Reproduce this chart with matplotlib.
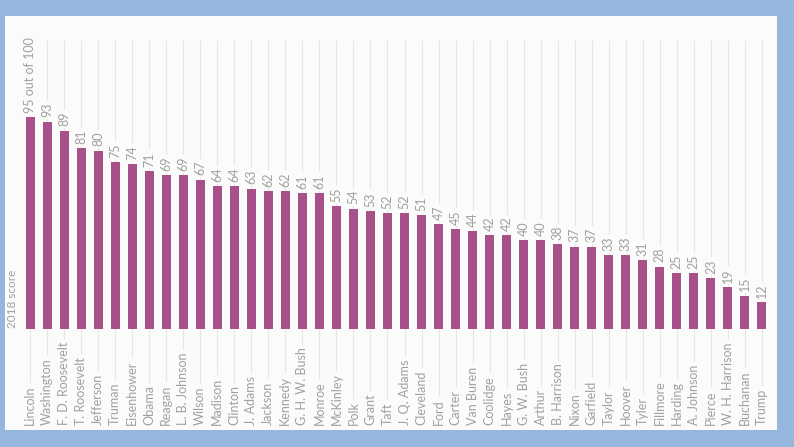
import matplotlib
matplotlib.use("Agg")
import matplotlib.pyplot as plt
from matplotlib.patches import Rectangle

# presidents ranked by 2018 score
presidents = [
    "Lincoln", "Washington", "F. D. Roosevelt", "T. Roosevelt", "Jefferson",
    "Truman", "Eisenhower", "Obama", "Reagan", "L. B. Johnson", "Wilson",
    "Madison", "Clinton", "J. Adams", "Jackson", "Kennedy", "G. H. W. Bush",
    "Monroe", "McKinley", "Polk", "Grant", "Taft", "J. Q. Adams", "Cleveland",
    "Ford", "Carter", "Van Buren", "Coolidge", "Hayes", "G. W. Bush", "Arthur",
    "B. Harrison", "Nixon", "Garfield", "Taylor", "Hoover", "Tyler",
    "Fillmore", "Harding", "A. Johnson", "Pierce", "W. H. Harrison",
    "Buchanan", "Trump",
]
scores = [
    95, 93, 89, 81, 80, 75, 74, 71, 69, 69, 67, 64, 64, 63, 62, 62, 61, 61,
    55, 54, 53, 52, 52, 51, 47, 45, 44, 42, 42, 40, 40, 38, 37, 37, 33, 33,
    31, 28, 25, 25, 23, 19, 15, 12,
]
value_labels = [f"{scores[0]} out of 100"] + [str(s) for s in scores[1:]]

bar_color = "#a8508a"
text_color = "#a0a0a0"
grid_color = "#e6e6e6"
panel_color = "#fbfbfb"
bg_color = "#95b7de"

plt.rcParams["font.family"] = ["Lato", "DejaVu Sans"]

W, H = 794, 447
fig = plt.figure(figsize=(W / 100, H / 100), dpi=100)
fig.patch.set_facecolor(bg_color)

# white panel behind the chart
panel = Rectangle((5 / W, 1 - 430 / H), 772 / W, 414 / H,
                  transform=fig.transFigure, facecolor=panel_color,
                  edgecolor="none", zorder=-1)
fig.add_artist(panel)

# axes spans from top of gridlines (y=40) to bottom of labels (y=425)
ax = fig.add_axes([21.5 / W, 1 - 425 / H, 749 / W, 385 / H])
ax.set_facecolor("none")
ymin, ymax = -43.0, 129.6
ax.set_ylim(ymin, ymax)
ax.set_xlim(-0.5, len(presidents) - 0.5)

x = list(range(len(presidents)))
ax.vlines(x, ymin, ymax, color=grid_color, linewidth=0.8, zorder=1)
ax.bar(x, scores, width=0.53, color=bar_color, zorder=2)

for xi, s, lab in zip(x, scores, value_labels):
    ax.annotate(lab, (xi, s), xytext=(0, 3), textcoords="offset points",
                rotation=90, ha="center", va="bottom", color=text_color,
                fontsize=9, zorder=3,
                bbox=dict(boxstyle="square,pad=0.15", fc=panel_color, ec="none"))

for xi, name in zip(x, presidents):
    ax.text(xi, ymin, name, rotation=90, ha="center", va="bottom",
            color=text_color, fontsize=9, zorder=3,
            bbox=dict(boxstyle="square,pad=0.2", fc=panel_color, ec="none"))

fig.text(13 / W, 1 - 328 / H, "2018 score", rotation=90, ha="center",
         va="bottom", color=text_color, fontsize=8.5)

ax.axis("off")
fig.savefig("out.png", dpi=100, facecolor=fig.get_facecolor())
